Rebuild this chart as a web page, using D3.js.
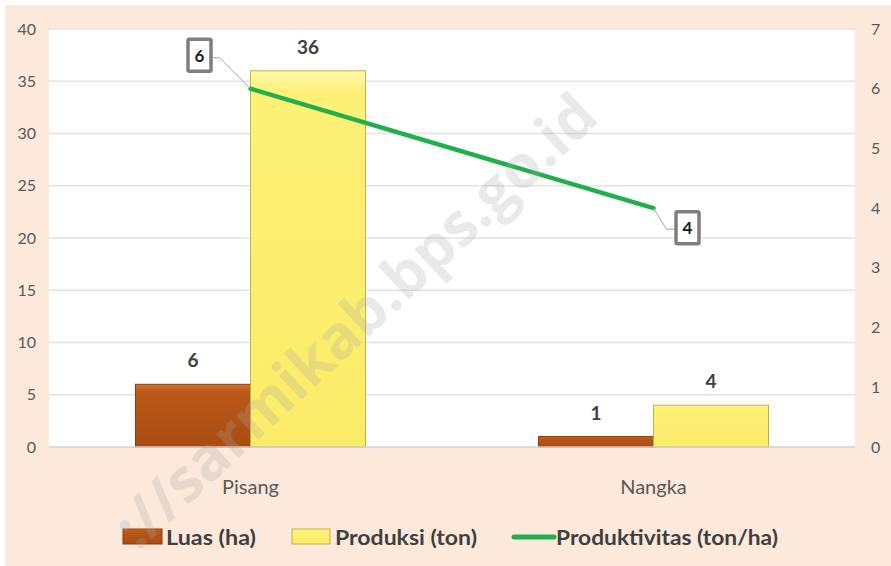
<!DOCTYPE html>
<html>
<head>
<meta charset="utf-8">
<script src="https://cdn.jsdelivr.net/npm/d3@7"></script>
<style>
  body { margin: 0; background: #fff; }
  svg { display: block; }
</style>
</head>
<body>
<script>
// chart data
const categories = ["Pisang", "Nangka"];
const luas = [6, 1];            // Luas (ha)
const produksi = [36, 4];       // Produksi (ton)
const produktivitas = [6, 4];   // Produktivitas (ton/ha)
const leftTicks = [0, 5, 10, 15, 20, 25, 30, 35, 40];
const rightTicks = [0, 1, 2, 3, 4, 5, 6, 7];
const seriesNames = ["Luas (ha)", "Produksi (ton)", "Produktivitas (ton/ha)"];

const width = 891, height = 566;
const plot = { left: 49, right: 855, top: 29, bottom: 447 };
const font = "Lato, 'Open Sans', sans-serif";

const svg = d3.select("body").append("svg")
  .attr("width", width)
  .attr("height", height);

const defs = svg.append("defs");
let g1 = defs.append("linearGradient").attr("id", "brown").attr("x1", 0).attr("y1", 0).attr("x2", 0).attr("y2", 1);
g1.append("stop").attr("offset", "0%").attr("stop-color", "#d2732f");
g1.append("stop").attr("offset", "12%").attr("stop-color", "#b9591a");
g1.append("stop").attr("offset", "100%").attr("stop-color", "#a84c10");
let g2 = defs.append("linearGradient").attr("id", "yellow").attr("x1", 0).attr("y1", 0).attr("x2", 0).attr("y2", 1);
g2.append("stop").attr("offset", "0%").attr("stop-color", "#fff9a8");
g2.append("stop").attr("offset", "6%").attr("stop-color", "#fdf177");
g2.append("stop").attr("offset", "100%").attr("stop-color", "#fbec68");

// background
svg.append("rect").attr("x", 5).attr("y", 5).attr("width", width - 5).attr("height", height - 5)
  .attr("fill", "#fce9dc");
svg.append("rect").attr("x", plot.left).attr("y", plot.top)
  .attr("width", plot.right - plot.left).attr("height", plot.bottom - plot.top)
  .attr("fill", "#ffffff");

const x = d3.scaleBand().domain(categories).range([plot.left, plot.right]);
const barW = 115;
const yL = d3.scaleLinear().domain([0, 40]).range([plot.bottom, plot.top]);
const yR = d3.scaleLinear().domain([0, 7]).range([plot.bottom, plot.top]);

// gridlines
svg.append("g").selectAll("line").data(leftTicks.slice(1)).join("line")
  .attr("x1", plot.left).attr("x2", plot.right)
  .attr("y1", d => yL(d)).attr("y2", d => yL(d))
  .attr("stroke", "#e3e3e3").attr("stroke-width", 1.5);

// left axis
const axL = svg.append("g").attr("transform", `translate(${plot.left - 13},0)`)
  .call(d3.axisLeft(yL).tickValues(leftTicks).tickFormat(d3.format("d")).tickSize(0).tickPadding(0));
axL.select(".domain").remove();
axL.selectAll("text").attr("font-family", font).attr("font-size", 16).attr("fill", "#595959");

// right axis
const axR = svg.append("g").attr("transform", `translate(${plot.right + 16},0)`)
  .call(d3.axisRight(yR).tickValues(rightTicks).tickFormat(d3.format("d")).tickSize(0).tickPadding(0));
axR.select(".domain").remove();
axR.selectAll("text").attr("font-family", font).attr("font-size", 16).attr("fill", "#595959");

// bars
const cx = d => x(d) + x.bandwidth() / 2;
const bars = svg.append("g");
bars.selectAll(".luas").data(categories).join("rect")
  .attr("x", d => cx(d) - barW).attr("y", (d, i) => yL(luas[i]))
  .attr("width", barW).attr("height", (d, i) => yL(0) - yL(luas[i]))
  .attr("fill", "url(#brown)").attr("stroke", "#8a3d0c").attr("stroke-width", 1);
bars.selectAll(".prod").data(categories).join("rect")
  .attr("x", d => cx(d)).attr("y", (d, i) => yL(produksi[i]))
  .attr("width", barW).attr("height", (d, i) => yL(0) - yL(produksi[i]))
  .attr("fill", "url(#yellow)").attr("stroke", "#bfb24a").attr("stroke-width", 1);

// zero line
svg.append("line").attr("x1", plot.left).attr("x2", plot.right)
  .attr("y1", yL(0)).attr("y2", yL(0)).attr("stroke", "#d0d0d0").attr("stroke-width", 1.5);

// bar labels
svg.append("g").selectAll("text").data(categories).join("text")
  .attr("x", d => cx(d) - barW / 2).attr("y", (d, i) => yL(luas[i]) - 17)
  .attr("text-anchor", "middle").attr("font-family", font).attr("font-weight", "bold")
  .attr("font-size", 19).attr("fill", "#404040").text((d, i) => luas[i]);
svg.append("g").selectAll("text").data(categories).join("text")
  .attr("x", d => cx(d) + barW / 2).attr("y", (d, i) => yL(produksi[i]) - 17)
  .attr("text-anchor", "middle").attr("font-family", font).attr("font-weight", "bold")
  .attr("font-size", 19).attr("fill", "#404040").text((d, i) => produksi[i]);

// category labels
svg.append("g").selectAll("text").data(categories).join("text")
  .attr("x", d => cx(d)).attr("y", 494)
  .attr("text-anchor", "middle").attr("font-family", font)
  .attr("font-size", 20).attr("fill", "#595959").text(d => d);

// line
const line = d3.line().x((d, i) => cx(categories[i])).y(d => yR(d));
svg.append("path").datum(produktivitas).attr("d", line)
  .attr("fill", "none").attr("stroke", "#1fb04b").attr("stroke-width", 4.5).attr("stroke-linecap", "round");

// line data callouts (box offset relative to point)
const callouts = [
  { dx: -64, dy: -51, leader: [[-31, -31], [-38, -31]] },
  { dx: 21, dy: 2, leader: [[13, 21], [21, 21]] }
];
const co = svg.append("g");
produktivitas.forEach((v, i) => {
  const px = cx(categories[i]), py = yR(v), c = callouts[i];
  const pts = [[px, py]].concat(c.leader.map(p => [px + p[0], py + p[1]]));
  co.append("path").attr("d", d3.line()(pts)).attr("fill", "none")
    .attr("stroke", "#a6a6a6").attr("stroke-width", 1);
  co.append("rect").attr("x", px + c.dx + 1.5).attr("y", py + c.dy + 1.5)
    .attr("width", 23).attr("height", 32).attr("fill", "#fff")
    .attr("stroke", "#7f7f7f").attr("stroke-width", 3.5).attr("rx", 1.5);
  co.append("text").attr("x", px + c.dx + 13).attr("y", py + c.dy + 24)
    .attr("text-anchor", "middle").attr("font-family", font).attr("font-weight", "bold")
    .attr("font-size", 17).attr("fill", "#1a1a1a").text(v);
});

// legend
const legend = svg.append("g").attr("font-family", font).attr("font-weight", "bold")
  .attr("font-size", 21).attr("fill", "#404040");
const legX = [123, 292, 514];
legend.append("rect").attr("x", legX[0]).attr("y", 529).attr("width", 39).attr("height", 15)
  .attr("fill", "url(#brown)").attr("stroke", "#8a3d0c");
legend.append("rect").attr("x", legX[1]).attr("y", 529).attr("width", 38).attr("height", 15)
  .attr("fill", "url(#yellow)").attr("stroke", "#bfb24a");
legend.append("line").attr("x1", legX[2]).attr("x2", legX[2] + 40).attr("y1", 537).attr("y2", 537)
  .attr("stroke", "#1fb04b").attr("stroke-width", 5).attr("stroke-linecap", "round");
legend.selectAll("text").data(seriesNames).join("text")
  .attr("x", (d, i) => [166, 335, 556][i]).attr("y", 545)
  .attr("textLength", (d, i) => [90, 142, 222][i]).attr("lengthAdjust", "spacingAndGlyphs")
  .text(d => d);

// watermark
svg.append("text").attr("transform", "translate(138,552) rotate(-43)")
  .attr("font-family", "'Open Sans', sans-serif").attr("font-weight", "bold")
  .attr("font-size", 60).attr("fill", "#a8a8a8").attr("fill-opacity", 0.25)
  .text("://sarmikab.bps.go.id");
</script>
</body>
</html>
